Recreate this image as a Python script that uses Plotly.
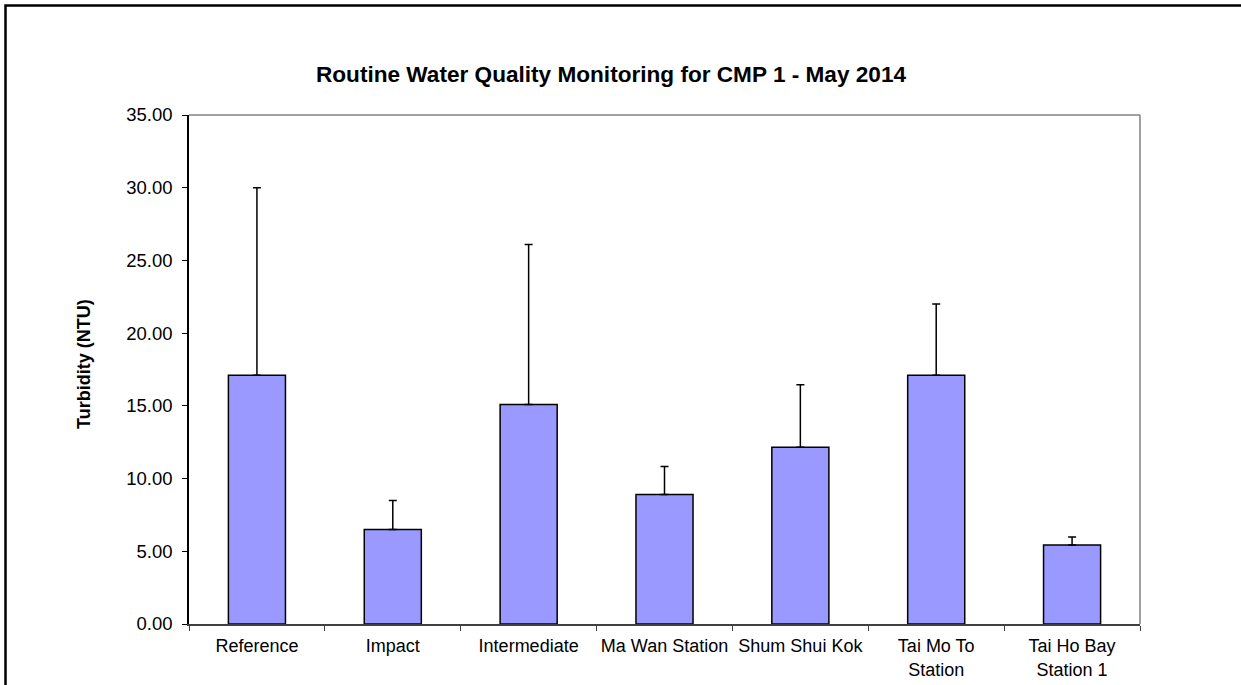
import plotly.graph_objects as go

categories = ["Reference", "Impact", "Intermediate", "Ma Wan Station", "Shum Shui Kok",
              "Tai Mo To<br>Station", "Tai Ho Bay<br>Station 1"]
mean_turbidity = [17.1, 6.5, 15.1, 8.9, 12.15, 17.1, 5.43]
error_plus = [12.9, 2.0, 11.0, 1.93, 4.3, 4.9, 0.55]
y_ticks = [0, 5, 10, 15, 20, 25, 30, 35]
y_tick_labels = ["0.00", "5.00", "10.00", "15.00", "20.00", "25.00", "30.00", "35.00"]

W, H = 1241, 685
L, R, T, B = 189, 1140, 115, 624
pw, ph = R - L, B - T

def px(x):
    return (x - L) / pw

def py(y):
    return (B - y) / ph

FONT = "Arial, Liberation Sans, sans-serif"

fig = go.Figure(go.Bar(
    x=categories, y=mean_turbidity, width=0.42,
    marker=dict(color="#9999FF", line=dict(color="black", width=1.5)),
    error_y=dict(type="data", array=error_plus, arrayminus=[0] * len(error_plus),
                 symmetric=False, color="black", thickness=1.5, width=4),
))

fig.update_layout(
    width=W, height=H,
    margin=dict(l=L, r=W - R, t=T, b=H - B, autoexpand=False),
    paper_bgcolor="white", plot_bgcolor="white",
    showlegend=False,
    font=dict(family=FONT, size=18, color="black"),
    bargap=0.58,
)

fig.add_annotation(
    text="<b>Routine Water Quality Monitoring for CMP 1 - May 2014</b>",
    xref="paper", yref="paper", x=px(611), y=py(74),
    xanchor="center", yanchor="middle", showarrow=False,
    font=dict(family=FONT, size=22.6, color="black"),
)
fig.add_annotation(
    text="<b>Turbidity (NTU)</b>", textangle=-90,
    xref="paper", yref="paper", x=px(84), y=py(364),
    xanchor="center", yanchor="middle", showarrow=False,
    font=dict(family=FONT, size=18, color="black"),
)

fig.update_xaxes(
    showgrid=False, showline=True, linecolor="#404040", linewidth=1.5,
    ticks="outside", ticklen=5, tickcolor="#404040", tickson="boundaries",
    tickangle=0, automargin=False, ticklabelstandoff=5,
    tickfont=dict(family=FONT, size=18, color="black"),
)
fig.update_yaxes(
    range=[0, 35], tickvals=y_ticks, ticktext=y_tick_labels,
    showgrid=False, showline=True, linecolor="black", linewidth=1.5,
    ticks="outside", ticklen=5, tickcolor="black", ticklabelstandoff=6,
    automargin=False,
    tickfont=dict(family=FONT, size=18.5, color="black"),
    zeroline=False,
)

# plot-area top and right edges (gray)
fig.add_shape(type="line", xref="paper", yref="paper", x0=0, x1=1, y0=1, y1=1,
              line=dict(color="#808080", width=1.5))
fig.add_shape(type="line", xref="paper", yref="paper", x0=1, x1=1, y0=0, y1=1,
              line=dict(color="#808080", width=1.5))
# outer chart frame (cropped at right and bottom)
fig.add_shape(type="rect", xref="paper", yref="paper",
              x0=px(5.5), x1=px(W + 20), y0=py(H + 20), y1=py(5.5),
              line=dict(color="black", width=2.5), fillcolor="rgba(0,0,0,0)", layer="above")

fig.write_html("out.html", config={"displayModeBar": False},
               post_script="document.body.style.margin='0px';")
